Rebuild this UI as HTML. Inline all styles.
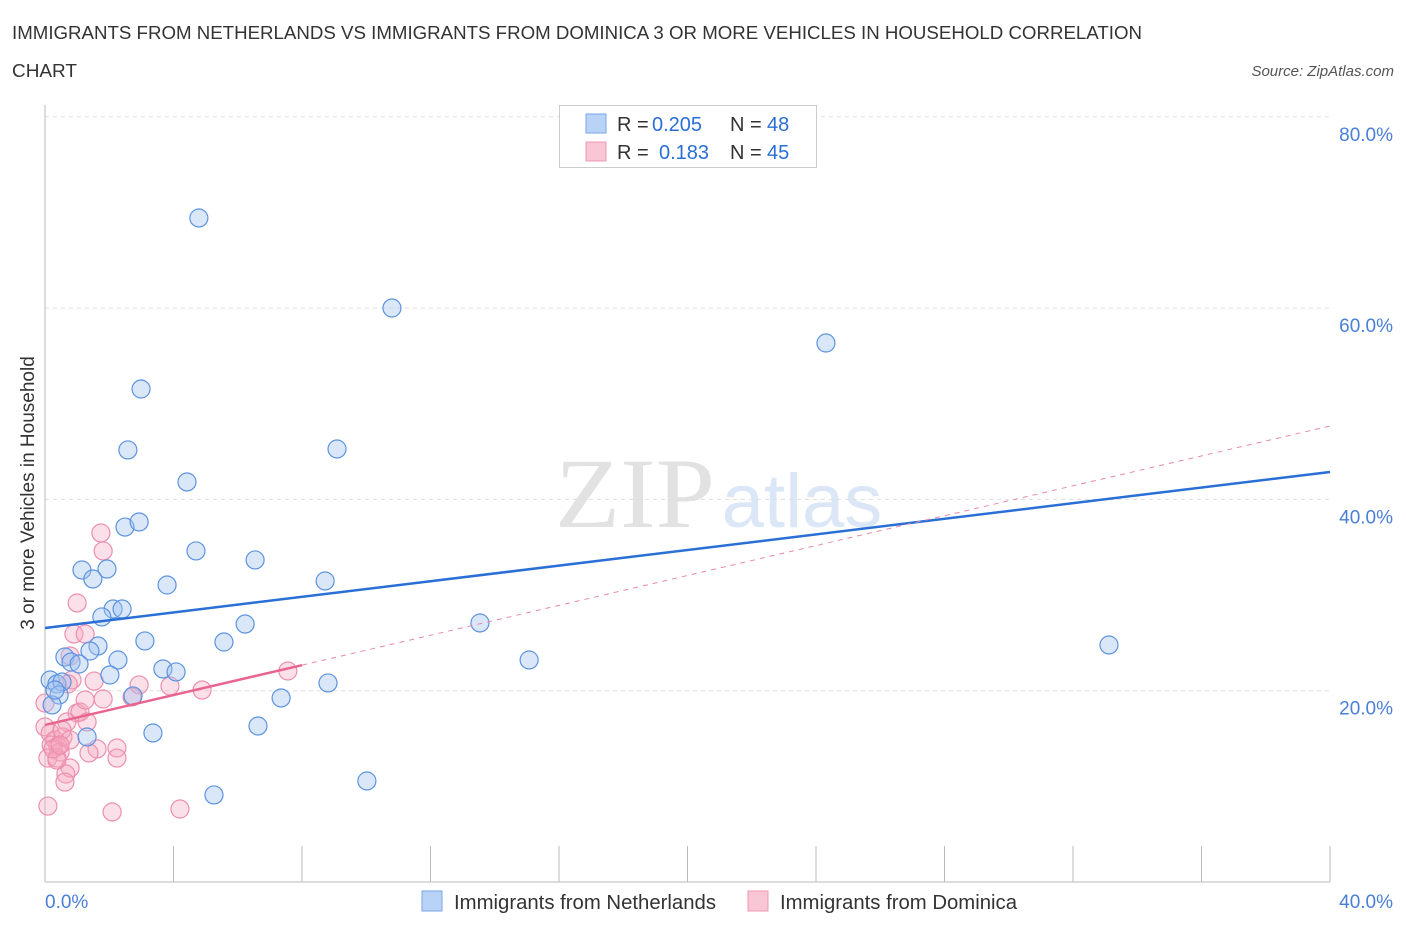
<!DOCTYPE html>
<html><head><meta charset="utf-8"><style>
body{margin:0;background:#fff;font-family:"Liberation Sans",sans-serif;}
#wrap{position:relative;width:1406px;height:930px;overflow:hidden;}
</style></head><body>
<div id="wrap">
<svg id="svg" width="1406" height="930" xmlns="http://www.w3.org/2000/svg"></svg>
</div>
<script>
const blueX=[4.79,10.80,24.31,2.99,2.58,9.09,4.42,2.49,2.93,4.70,6.54,1.15,1.93,1.49,3.80,8.72,2.12,2.40,1.77,6.23,13.54,3.11,5.57,1.65,0.62,1.40,2.27,0.81,1.06,15.07,33.12,3.67,4.08,2.02,0.16,0.37,0.53,8.81,2.74,0.44,7.35,0.22,6.63,3.36,1.31,10.02,5.26,0.31];
const blueY=[69.42,60.01,56.35,51.54,45.17,45.27,41.82,37.11,37.64,34.61,33.67,32.62,32.72,31.68,31.05,31.47,28.54,28.54,27.71,26.97,27.08,25.20,25.09,24.67,23.52,24.15,23.21,23.00,22.79,23.21,24.78,22.27,21.96,21.64,21.12,20.70,20.91,20.81,19.45,19.55,19.24,18.51,16.31,15.58,15.16,10.56,9.10,20.07];
const pinkX=[1.74,1.81,1.00,0.90,1.25,0.78,0.84,1.53,0.72,2.93,3.89,4.89,7.56,2.71,1.81,1.00,1.09,0.68,1.31,0,0.16,0.31,0.56,1.62,0.19,0.40,2.24,1.37,0.47,0.09,0.37,2.24,0.78,0.65,0.62,0.09,2.09,4.20,0,0.37,0.53,0.78,0.25,0.47,1.25];
const pinkY=[36.49,34.61,29.17,25.93,25.93,23.63,21.12,21.01,20.70,20.60,20.49,20.07,22.06,19.34,19.13,17.67,17.77,16.73,16.73,16.21,15.58,14.85,15.16,13.91,14.32,14.22,14.01,13.49,13.59,12.96,12.96,12.96,11.92,11.29,10.45,7.94,7.32,7.63,18.71,12.75,15.89,14.85,13.91,14.32,19.03];
const blueTrend=[26.55,42.87];
const pinkTrend=[16.42,47.67];
const pinkSolidEnd=8;
const yTicks=[20,40,60,80];
const xTickVals=[0,4,8,12,16,20,24,28,32,36,40];

const NS="http://www.w3.org/2000/svg";
const svg=document.getElementById('svg');
const X=v=>45+v/40*1285;
const Y=v=>882-v/20*191.3;
function mk(tag,attrs,parent){const e=document.createElementNS(NS,tag);for(const k in attrs)e.setAttribute(k,attrs[k]);(parent||svg).appendChild(e);return e;}

let t=mk('text',{x:12,y:39,'font-size':18,fill:'#333',textLength:1130,lengthAdjust:'spacingAndGlyphs'});t.textContent='IMMIGRANTS FROM NETHERLANDS VS IMMIGRANTS FROM DOMINICA 3 OR MORE VEHICLES IN HOUSEHOLD CORRELATION';


t=mk('text',{x:12,y:77,'font-size':18,fill:'#333',textLength:65,lengthAdjust:'spacingAndGlyphs'});t.textContent='CHART';


t=mk('text',{x:1394,y:76,'font-size':15,fill:'#555','font-style':'italic','text-anchor':'end'});t.textContent='Source: ZipAtlas.com';



// watermark
t=mk('text',{x:635,y:527,'font-size':100,fill:'#e2e2e2','font-family':'Liberation Serif,serif','text-anchor':'middle',textLength:160,lengthAdjust:'spacingAndGlyphs'});t.textContent='ZIP';


t=mk('text',{x:802,y:527,'font-size':76,fill:'#dbe7f6','text-anchor':'middle'});t.textContent='atlas';



// grid
yTicks.forEach(v=>{
 const g=mk('line',{x1:45,x2:1330,y1:Y(v),y2:Y(v),stroke:'#ddd','stroke-dasharray':'4,4'});
 
 
 const l=mk('text',{x:1393,y:Y(v)+24,'font-size':19,fill:'#4a7fd6','text-anchor':'end'});l.textContent=v.toFixed(1)+'%';
 
 
});
let ax=mk('line',{x1:45,x2:45,y1:105,y2:882,stroke:'#bbb'});


ax=mk('line',{x1:45,x2:1330,y1:882,y2:882,stroke:'#bbb'});


xTickVals.forEach(v=>{
 const tk=mk('line',{x1:X(v),x2:X(v),y1:846,y2:882,stroke:'#bbb'});
 
 
});
t=mk('text',{x:45,y:908,'font-size':19,fill:'#4a7fd6'});t.textContent='0.0%';


t=mk('text',{x:1393,y:908,'font-size':19,fill:'#4a7fd6','text-anchor':'end'});t.textContent='40.0%';


t=mk('text',{x:34,y:493,'font-size':19,fill:'#333','text-anchor':'middle',transform:'rotate(-90 34 493)'});t.textContent='3 or more Vehicles in Household';



// points
pinkX.forEach((x,i)=>{
 const c=mk('circle',{cx:X(x),cy:Y(pinkY[i]),r:9,fill:'rgba(245,165,192,0.35)',stroke:'#ec8fae','stroke-width':1.2});
 
 
});
blueX.forEach((x,i)=>{
 const c=mk('circle',{cx:X(x),cy:Y(blueY[i]),r:9,fill:'rgba(160,196,240,0.4)',stroke:'#5d93e0','stroke-width':1.2});
 
 
});
// trends
let ln=mk('line',{x1:X(0),y1:Y(blueTrend[0]),x2:X(40),y2:Y(blueTrend[1]),stroke:'#2a6fd6','stroke-width':2.5});


const pAt=x=>pinkTrend[0]+(pinkTrend[1]-pinkTrend[0])*x/40;
ln=mk('line',{x1:X(pinkSolidEnd),y1:Y(pAt(pinkSolidEnd)),x2:X(40),y2:Y(pinkTrend[1]),stroke:'#e88aa8','stroke-width':1,'stroke-dasharray':'5,5'});


ln=mk('line',{x1:X(0),y1:Y(pinkTrend[0]),x2:X(pinkSolidEnd),y2:Y(pAt(pinkSolidEnd)),stroke:'#e8658f','stroke-width':2.5});



// stats legend
const lg=mk('g',{});


mk('rect',{x:559.5,y:105.5,width:257,height:62,fill:'#fff',stroke:'#ccc'},lg);
mk('rect',{x:586,y:114,width:20,height:19,fill:'#b8d3f6',stroke:'#7aa6e6'},lg);
mk('rect',{x:586,y:142,width:20,height:19,fill:'#f9c6d5',stroke:'#ec98b3'},lg);
function tx(x,y,s,c){const e=mk('text',{x:x,y:y,'font-size':20,fill:c},lg);e.textContent=s;return e;}
tx(617,131,'R = ','#333');tx(652,131,'0.205','#2a6fd6');tx(730,131,'N = ','#333');tx(767,131,'48','#2a6fd6');
tx(617,159,'R = ','#333');tx(659,159,'0.183','#2a6fd6');tx(730,159,'N = ','#333');tx(767,159,'45','#2a6fd6');

// bottom legend
const bl=mk('g',{});


let r=mk('rect',{x:422,y:891,width:20,height:20,fill:'#b8d3f6',stroke:'#7aa6e6'},bl);


t=mk('text',{x:454,y:909,'font-size':20,fill:'#333',textLength:262,lengthAdjust:'spacingAndGlyphs'},bl);t.textContent='Immigrants from Netherlands';
r=mk('rect',{x:748,y:891,width:20,height:20,fill:'#f9c6d5',stroke:'#ec98b3'},bl);


t=mk('text',{x:780,y:909,'font-size':20,fill:'#333',textLength:237,lengthAdjust:'spacingAndGlyphs'},bl);t.textContent='Immigrants from Dominica';
</script>
</body></html>
